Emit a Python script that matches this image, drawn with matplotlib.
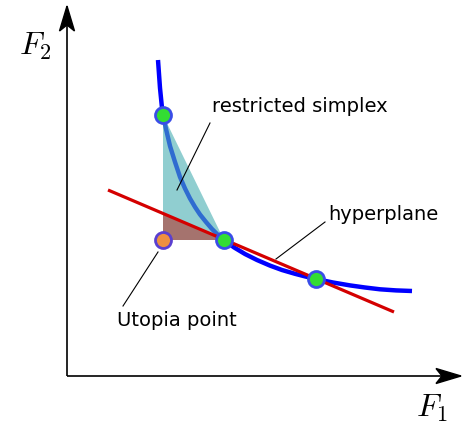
import numpy as np
import matplotlib.pyplot as plt
from matplotlib.patches import Polygon

plt.rcParams['mathtext.fontset'] = 'cm'
plt.rcParams['font.family'] = ['DejaVu Sans']

# Pareto front (F1, F2)
front_f1 = [0.91, 0.93, 0.95, 0.96, 0.99, 1.03, 1.08, 1.13, 1.18, 1.23, 1.28, 1.33, 1.39, 1.45, 1.51,
            1.57, 1.67, 1.78, 1.90, 2.03, 2.15, 2.28, 2.38, 2.49, 2.66, 2.83, 2.98, 3.13, 3.29, 3.45]
front_f2 = [3.16, 2.88, 2.68, 2.61, 2.47, 2.30, 2.14, 1.99, 1.875, 1.775, 1.69, 1.615, 1.54, 1.47, 1.41,
            1.36, 1.286, 1.22, 1.16, 1.104, 1.06, 1.022, 0.996, 0.97, 0.935, 0.906, 0.885, 0.867, 0.856, 0.85]

# solutions on the front
sol_f1 = [0.96, 1.57, 2.49]
sol_f2 = [2.61, 1.36, 0.97]

# utopia point
utopia = (0.96, 1.36)

# hyperplane through the two lower solutions
plane_f1 = [0.41, 3.27]
plane_f2 = [1.86, 0.64]

# where the hyperplane crosses F1 = utopia F1
plane_cut = 1.62

XMAX, YMAX = 3.95, 3.76

fig = plt.figure(figsize=(4.62, 4.25), dpi=100)
ax = fig.add_axes([0, 0, 1, 1])
ax.set_xlim(-0.67, XMAX)
ax.set_ylim(-0.49, YMAX)
ax.axis('off')


def arrow(ax, x0, y0, x1, y1):
    ax.plot([x0, x1], [y0, y1], color='black', lw=1.2, solid_capstyle='butt', zorder=5)
    d = np.array([x1 - x0, y1 - y0])
    d = d / np.hypot(*d)
    n = np.array([-d[1], d[0]])
    tip = np.array([x1, y1])
    back = tip - 0.25 * d
    notch = tip - 0.19 * d
    pts = [tip, back + 0.075 * n, notch, back - 0.075 * n]
    ax.add_patch(Polygon(pts, closed=True, color='black', zorder=6))


# axes
arrow(ax, 0, 0, 0, 3.70)
arrow(ax, 0, 0, 3.94, 0)
ax.text(-0.32, 3.30, r'$F_2$', fontsize=23, ha='center', va='center')
ax.text(3.65, -0.32, r'$F_1$', fontsize=23, ha='center', va='center')

# front
ax.plot(front_f1, front_f2, color='#0000ff', lw=3.2, solid_capstyle='butt',
        solid_joinstyle='round', zorder=2)

# restricted simplex and region under the hyperplane
simplex = [(sol_f1[0], sol_f2[0]), utopia, (sol_f1[1], sol_f2[1])]
ax.add_patch(Polygon(simplex, closed=True, facecolor=(0.30, 0.69, 0.70), alpha=0.62,
                     edgecolor='none', zorder=3))
under = [(utopia[0], plane_cut), utopia, (sol_f1[1], sol_f2[1])]
ax.add_patch(Polygon(under, closed=True, facecolor='#a5736e', edgecolor='none', zorder=3))

# hyperplane
ax.plot(plane_f1, plane_f2, color='#d40000', lw=2.3, solid_capstyle='butt', zorder=4)

# points
ax.plot(sol_f1, sol_f2, 'o', ms=11.5, mfc='#33dd33', mec='#3a4de8', mew=2, zorder=7)
ax.plot([utopia[0]], [utopia[1]], 'o', ms=11.5, mfc='#ee9040', mec='#5a3fd0', mew=2, zorder=7)

# labels with leader lines
ax.plot([1.43, 1.10], [2.53, 1.86], color='black', lw=0.8, zorder=6)
ax.text(2.33, 2.70, 'restricted simplex', fontsize=14, ha='center', va='center')
ax.plot([2.58, 2.09], [1.54, 1.17], color='black', lw=0.8, zorder=6)
ax.text(3.16, 1.61, 'hyperplane', fontsize=14, ha='center', va='center')
ax.plot([0.91, 0.56], [1.24, 0.70], color='black', lw=0.8, zorder=6)
ax.text(1.10, 0.56, 'Utopia point', fontsize=14, ha='center', va='center')

fig.savefig('out.png', dpi=100)
